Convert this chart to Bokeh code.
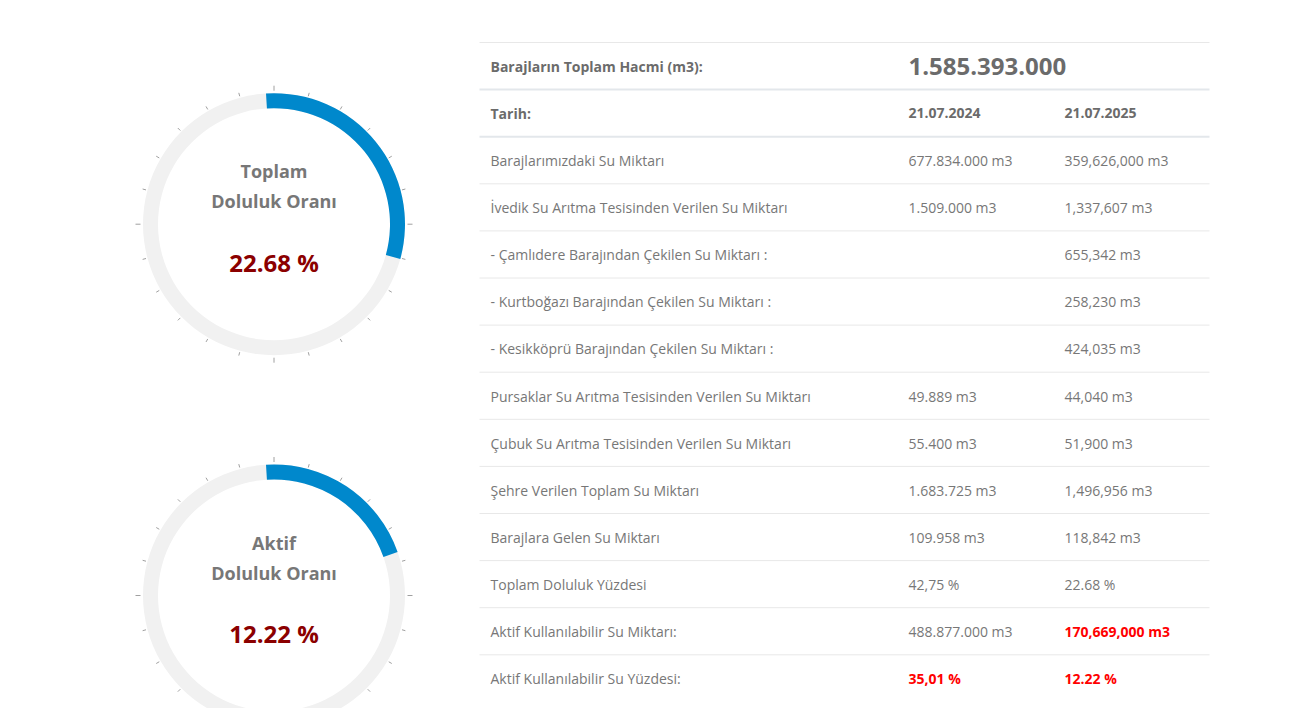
import numpy as np
from bokeh.plotting import figure
from bokeh.models import Range1d
from bokeh.core.properties import value
from bokeh.embed import file_html
from bokeh.resources import INLINE

# ---------------- data ----------------
gauge_title_1 = ["Toplam", "Aktif"]
gauge_title_2 = ["Doluluk Oranı", "Doluluk Oranı"]
gauge_values = [22.68, 12.22]          # printed values (%)
gauge_arc_shown = [30.25, 20.6]        # share of the ring that is drawn blue (%)

total_label = "Barajların Toplam Hacmi (m3):"
total_value = "1.585.393.000"
date_label = "Tarih:"
dates = ["21.07.2024", "21.07.2025"]

row_labels = [
    "Barajlarımızdaki Su Miktarı",
    "İvedik Su Arıtma Tesisinden Verilen Su Miktarı",
    "- Çamlıdere Barajından Çekilen Su Miktarı :",
    "- Kurtboğazı Barajından Çekilen Su Miktarı :",
    "- Kesikköprü Barajından Çekilen Su Miktarı :",
    "Pursaklar Su Arıtma Tesisinden Verilen Su Miktarı",
    "Çubuk Su Arıtma Tesisinden Verilen Su Miktarı",
    "Şehre Verilen Toplam Su Miktarı",
    "Barajlara Gelen Su Miktarı",
    "Toplam Doluluk Yüzdesi",
    "Aktif Kullanılabilir Su Miktarı:",
    "Aktif Kullanılabilir Su Yüzdesi:",
]
values_2024 = ["677.834.000 m3", "1.509.000 m3", "", "", "", "49.889 m3", "55.400 m3",
               "1.683.725 m3", "109.958 m3", "42,75 %", "488.877.000 m3", "35,01 %"]
values_2025 = ["359,626,000 m3", "1,337,607 m3", "655,342 m3", "258,230 m3", "424,035 m3",
               "44,040 m3", "51,900 m3", "1,496,956 m3", "118,842 m3", "22.68 %",
               "170,669,000 m3", "12.22 %"]
highlight_2024 = [False] * 11 + [True]
highlight_2025 = [False] * 10 + [True, True]

# ---------------- figure ----------------
W, H = 1279, 708
p = figure(width=W, height=H, output_backend="svg", toolbar_location=None,
           x_range=Range1d(0, W), y_range=Range1d(0, H), min_border=0)
p.axis.visible = False
p.grid.visible = False
p.outline_line_color = None
p.background_fill_color = "white"
p.border_fill_color = "white"

def X(sx):
    return sx

def Y(sy):
    return H - sy

FONT = value("Open Sans")
GRAY = "#777777"
DARK = "#6b6b6b"

# ---------------- gauges ----------------
centers_y = [223.7, 595.0]
cx = 273.5
r_out, r_in = 131, 116
start_rad = np.deg2rad(93.5)
for i in range(2):
    cy = centers_y[i]
    p.annular_wedge(x=[X(cx)], y=[Y(cy)], inner_radius=r_in, outer_radius=r_out,
                    start_angle=0, end_angle=2 * np.pi - 1e-6,
                    fill_color="#f1f1f1", line_color=None)
    sweep = gauge_arc_shown[i] / 100 * 2 * np.pi
    p.annular_wedge(x=[X(cx)], y=[Y(cy)], inner_radius=r_in, outer_radius=r_out,
                    start_angle=start_rad, end_angle=start_rad - sweep,
                    direction="clock", fill_color="#0088cc", line_color=None)
    ang = np.deg2rad(90 - np.arange(24) * 15)
    major = (np.arange(24) % 6 == 0)
    r0 = np.where(major, 133.5, 132.5)
    r1 = np.where(major, 138.5, 136.0)
    p.segment(x0=X(cx) + r0 * np.cos(ang), y0=Y(cy) + r0 * np.sin(ang),
              x1=X(cx) + r1 * np.cos(ang), y1=Y(cy) + r1 * np.sin(ang),
              line_color="#a0a0a0", line_width=1)
    p.text(x=[X(cx)], y=[Y(cy - 53)], text=[gauge_title_1[i]], text_font=FONT,
           text_font_size="18px", text_font_style="bold", text_color=GRAY,
           text_align="center", text_baseline="middle")
    p.text(x=[X(cx)], y=[Y(cy - 23)], text=[gauge_title_2[i]], text_font=FONT,
           text_font_size="18px", text_font_style="bold", text_color=GRAY,
           text_align="center", text_baseline="middle")
    p.text(x=[X(cx)], y=[Y(cy + 38)], text=[f"{gauge_values[i]:.2f} %"], text_font=FONT,
           text_font_size="24px", text_font_style="bold", text_color="#8b0000",
           text_align="center", text_baseline="middle")

# ---------------- table ----------------
tx0, tx1 = 479, 1209
col_x = [490, 908, 1064]
line_y = [42 + 47.1 * k for k in range(14)]
for k, ly in enumerate(line_y):
    if k in (1, 2):
        p.segment(x0=[X(tx0)], y0=[Y(ly)], x1=[X(tx1)], y1=[Y(ly)],
                  line_color="#e3e7eb", line_width=2)
    else:
        p.segment(x0=[X(tx0)], y0=[Y(ly)], x1=[X(tx1)], y1=[Y(ly)],
                  line_color="#e8e8e8", line_width=1)

def mid(k):
    return line_y[k] + 23.8

p.text(x=[X(col_x[0])], y=[Y(mid(0))], text=[total_label], text_font=FONT,
       text_font_size="14px", text_font_style="bold", text_color=DARK, text_baseline="middle")
p.text(x=[X(col_x[1])], y=[Y(mid(0))], text=[total_value], text_font=FONT,
       text_font_size="24px", text_font_style="bold", text_color=DARK, text_baseline="middle")
p.text(x=[X(col_x[0])], y=[Y(mid(1))], text=[date_label], text_font=FONT,
       text_font_size="14px", text_font_style="bold", text_color=DARK, text_baseline="middle")
for j in range(2):
    p.text(x=[X(col_x[j + 1])], y=[Y(mid(1))], text=[dates[j]], text_font=FONT,
           text_font_size="14px", text_font_style="bold", text_color=DARK, text_baseline="middle")

for i, lab in enumerate(row_labels):
    yy = Y(mid(i + 2))
    p.text(x=[X(col_x[0])], y=[yy], text=[lab], text_font=FONT, text_font_size="14px",
           text_color=GRAY, text_baseline="middle")
    for j, (vals, hl) in enumerate(((values_2024, highlight_2024), (values_2025, highlight_2025))):
        if vals[i]:
            p.text(x=[X(col_x[j + 1])], y=[yy], text=[vals[i]], text_font=FONT,
                   text_font_size="14px", text_color="#ff0000" if hl[i] else GRAY,
                   text_font_style="bold" if hl[i] else "normal", text_baseline="middle")

open("out.html", "w").write(file_html(p, INLINE))
